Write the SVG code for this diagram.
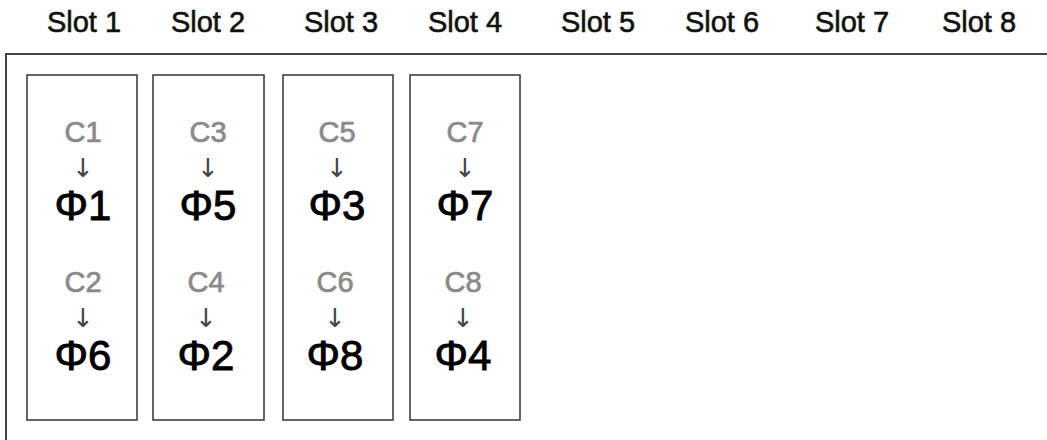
<svg xmlns="http://www.w3.org/2000/svg" width="1047" height="440" viewBox="0 0 1047 440">
<style>
.slot{font-family:"Liberation Sans",Arial,sans-serif;font-size:29px;fill:#111;text-anchor:middle;stroke:#111;stroke-width:0.6}
.box{fill:#fff;stroke:#333;stroke-width:1.5}
.c{font-family:"Liberation Sans",Arial,sans-serif;font-size:29px;fill:#8a8a8a;stroke:#8a8a8a;stroke-width:0.7;text-anchor:middle}
.ar{font-family:"DejaVu Sans",sans-serif;font-size:26px;fill:#444;text-anchor:middle}
.phi{font-family:"Liberation Sans",Arial,sans-serif;font-size:42px;fill:#000;stroke:#000;stroke-width:0.9;text-anchor:middle}
</style>
<rect width="1047" height="440" fill="#fff"/>
<g id="slots">
<text class="slot" x="84" y="32">Slot 1</text>
<text class="slot" x="208" y="32">Slot 2</text>
<text class="slot" x="341" y="32">Slot 3</text>
<text class="slot" x="465" y="32">Slot 4</text>
<text class="slot" x="598" y="32">Slot 5</text>
<text class="slot" x="722" y="32">Slot 6</text>
<text class="slot" x="852" y="32">Slot 7</text>
<text class="slot" x="979" y="32">Slot 8</text>
</g>
<g id="frame">
<path d="M6,440 V54 H1047" fill="none" stroke="#444" stroke-width="2"/>
</g>
<g id="box1">
<rect class="box" x="27" y="75" width="110" height="345"/>
<text class="c" x="83" y="142">C1</text>
<text class="ar" x="83" y="177">↓</text>
<text class="phi" x="83" y="220">Φ1</text>
<text class="c" x="83" y="292">C2</text>
<text class="ar" x="83" y="327">↓</text>
<text class="phi" x="83" y="370">Φ6</text>
</g>
<g id="box2">
<rect class="box" x="153" y="75" width="111" height="345"/>
<text class="c" x="208" y="142">C3</text>
<text class="ar" x="208" y="177">↓</text>
<text class="phi" x="208" y="220">Φ5</text>
<text class="c" x="206" y="292">C4</text>
<text class="ar" x="206" y="327">↓</text>
<text class="phi" x="206" y="370">Φ2</text>
</g>
<g id="box3">
<rect class="box" x="283" y="75" width="110" height="345"/>
<text class="c" x="337" y="142">C5</text>
<text class="ar" x="337" y="177">↓</text>
<text class="phi" x="337" y="220">Φ3</text>
<text class="c" x="335" y="292">C6</text>
<text class="ar" x="335" y="327">↓</text>
<text class="phi" x="335" y="370">Φ8</text>
</g>
<g id="box4">
<rect class="box" x="410" y="75" width="110" height="345"/>
<text class="c" x="465" y="142">C7</text>
<text class="ar" x="465" y="177">↓</text>
<text class="phi" x="465" y="220">Φ7</text>
<text class="c" x="463" y="292">C8</text>
<text class="ar" x="463" y="327">↓</text>
<text class="phi" x="463" y="370">Φ4</text>
</g>
</svg>
